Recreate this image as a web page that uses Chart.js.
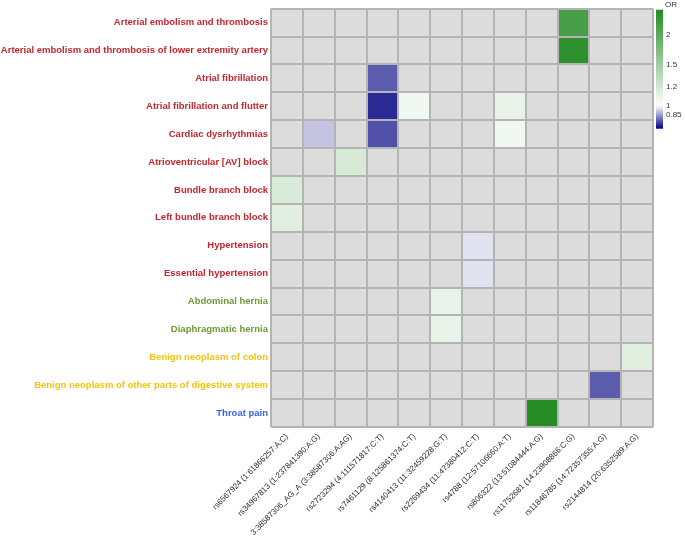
<!DOCTYPE html>
<html>
<head>
<meta charset="utf-8">
<script src="https://cdn.jsdelivr.net/npm/chart.js@4.4.1/dist/chart.umd.min.js"></script>
<style>
  html, body { margin: 0; padding: 0; background: #fff; }
  #wrap { width: 685px; height: 541px; position: relative; }
</style>
</head>
<body>
<div id="wrap"><canvas id="heat"></canvas></div>
<script>
'use strict';

// phenotypes (rows, top to bottom) and their group colour
const diseases = [
  'Arterial embolism and thrombosis',
  'Arterial embolism and thrombosis of lower extremity artery',
  'Atrial fibrillation',
  'Atrial fibrillation and flutter',
  'Cardiac dysrhythmias',
  'Atrioventricular [AV] block',
  'Bundle branch block',
  'Left bundle branch block',
  'Hypertension',
  'Essential hypertension',
  'Abdominal hernia',
  'Diaphragmatic hernia',
  'Benign neoplasm of colon',
  'Benign neoplasm of other parts of digestive system',
  'Throat pain'
];
const diseaseColors = [
  '#c4262e', '#c4262e', '#c4262e', '#c4262e', '#c4262e', '#c4262e', '#c4262e',
  '#c4262e', '#c4262e', '#c4262e',
  '#6b9a35', '#6b9a35',
  '#f2c40f', '#f2c40f',
  '#3b62e0'
];

// variants (columns, left to right)
const snps = [
  'rs6567924 (1:61866257:A:C)',
  'rs34967813 (1:237841390:A:G)',
  '3:38587306_AG_A (3:38587306:A:AG)',
  'rs2723294 (4:111571817:C:T)',
  'rs7461129 (8:125861374:C:T)',
  'rs4140413 (11:32459228:G:T)',
  'rs2269434 (11:47380412:C:T)',
  'rs4788 (12:57106660:A:T)',
  'rs806322 (13:51084444:A:G)',
  'rs11752681 (14:23908866:C:G)',
  'rs11846785 (14:72357355:A:G)',
  'rs2144814 (20:6352589:A:G)'
];

// odds ratio per phenotype x variant, null = not significant (grey)
const orByDisease = [
  [null, null, null, null, null, null, null, null, null, 2.20, null, null],
  [null, null, null, null, null, null, null, null, null, 2.45, null, null],
  [null, null, null, 0.867, null, null, null, null, null, null, null, null],
  [null, null, null, 0.83, 1.06, null, null, 1.10, null, null, null, null],
  [null, 0.95, null, 0.858, null, null, null, 1.06, null, null, null, null],
  [null, null, 1.19, null, null, null, null, null, null, null, null, null],
  [1.18, null, null, null, null, null, null, null, null, null, null, null],
  [1.14, null, null, null, null, null, null, null, null, null, null, null],
  [null, null, null, null, null, null, 0.975, null, null, null, null, null],
  [null, null, null, null, null, null, 0.975, null, null, null, null, null],
  [null, null, null, null, null, 1.10, null, null, null, null, null, null],
  [null, null, null, null, null, 1.10, null, null, null, null, null, null],
  [null, null, null, null, null, null, null, null, null, null, null, 1.14],
  [null, null, null, null, null, null, null, null, null, null, 0.867, null],
  [null, null, null, null, null, null, null, null, 2.52, null, null, null]
];

// colour bar
const orMin = 0.8, orMax = 2.56;
const orTicks = [2, 1.5, 1.2, 1, 0.85];

const LOW = [0, 0, 128], MID = [255, 255, 255], HIGH = [34, 139, 34];
const GREY = '#dcdcdc', LINE = '#b4b4b4';

function mix(a, b, t){
  return 'rgb(' + a.map((v, i) => Math.round(v + (b[i] - v) * t)).join(',') + ')';
}
function orColor(v){
  if (v == null) return GREY;
  const l = Math.log(v);
  if (l >= 0) return mix(MID, HIGH, Math.min(1, l / Math.log(orMax)));
  return mix(MID, LOW, Math.min(1, l / Math.log(orMin)));
}

const colorBar = {
  id: 'colorBar',
  afterDraw(chart){
    const { ctx, chartArea } = chart;
    const x = chartArea.right + 3, w = 7, top = chartArea.top + 1, h = 119;
    const lmin = Math.log(orMin), lmax = Math.log(orMax);
    const yOf = v => top + (lmax - Math.log(v)) / (lmax - lmin) * h;
    const g = ctx.createLinearGradient(0, top + h, 0, top);
    for (let i = 0; i <= 40; i++){
      const t = i / 40;
      g.addColorStop(t, orColor(Math.exp(lmin + (lmax - lmin) * t)));
    }
    ctx.save();
    ctx.fillStyle = g;
    ctx.fillRect(x, top, w, h);
    ctx.fillStyle = '#333';
    ctx.font = '8px "Liberation Sans", Arial, sans-serif';
    ctx.textAlign = 'left';
    ctx.textBaseline = 'middle';
    ctx.fillText('OR', x + 9, top - 5);
    orTicks.forEach(v => {
      let y = yOf(v);
      if (v < 1) y = Math.min(y, top + h - 14);
      ctx.fillText(String(v), x + 10, y);
    });
    ctx.restore();
  }
};

new Chart(document.getElementById('heat'), {
  type: 'bar',
  data: {
    labels: diseases,
    datasets: snps.map((s, j) => ({
      label: s,
      data: diseases.map(() => 1),
      backgroundColor: diseases.map((d, i) => orColor(orByDisease[i][j])),
      borderWidth: 0,
      inflateAmount: 0.5,
      barPercentage: 1,
      categoryPercentage: 1
    }))
  },
  options: {
    indexAxis: 'y',
    responsive: true, maintainAspectRatio: false,
    animation: false,
    layout: { padding: { top: 7, right: 32, bottom: 0, left: 0 } },
    plugins: { legend: { display: false }, tooltip: { enabled: false } },
    scales: {
      x: {
        type: 'linear', stacked: true, min: 0, max: snps.length,
        ticks: { display: false, stepSize: 1 },
        grid: { color: LINE, lineWidth: 2, drawTicks: false, z: 1 },
        border: { display: false },
        afterFit: s => { s.height = 0; }
      },
      xl: {
        type: 'category', labels: snps, position: 'bottom', offset: true,
        grid: { display: false, drawTicks: false }, border: { display: false },
        ticks: { minRotation: 45, maxRotation: 45, autoSkip: false, padding: 5, color: '#2b2b2b',
          font: { family: '"Liberation Sans", Arial, sans-serif', size: 8 } },
        afterFit: s => { s.height = 114; }
      },
      y: {
        stacked: true,
        grid: { color: LINE, lineWidth: 2, drawTicks: false, offset: true, z: 1 },
        border: { display: false },
        ticks: { autoSkip: false, padding: 3, color: c => diseaseColors[c.index],
          font: { family: '"Liberation Sans", Arial, sans-serif', size: 9.5, weight: 'bold' } },
        afterFit: s => { s.width = 271; }
      }
    }
  },
  plugins: [colorBar]
});
</script>
</body>
</html>
